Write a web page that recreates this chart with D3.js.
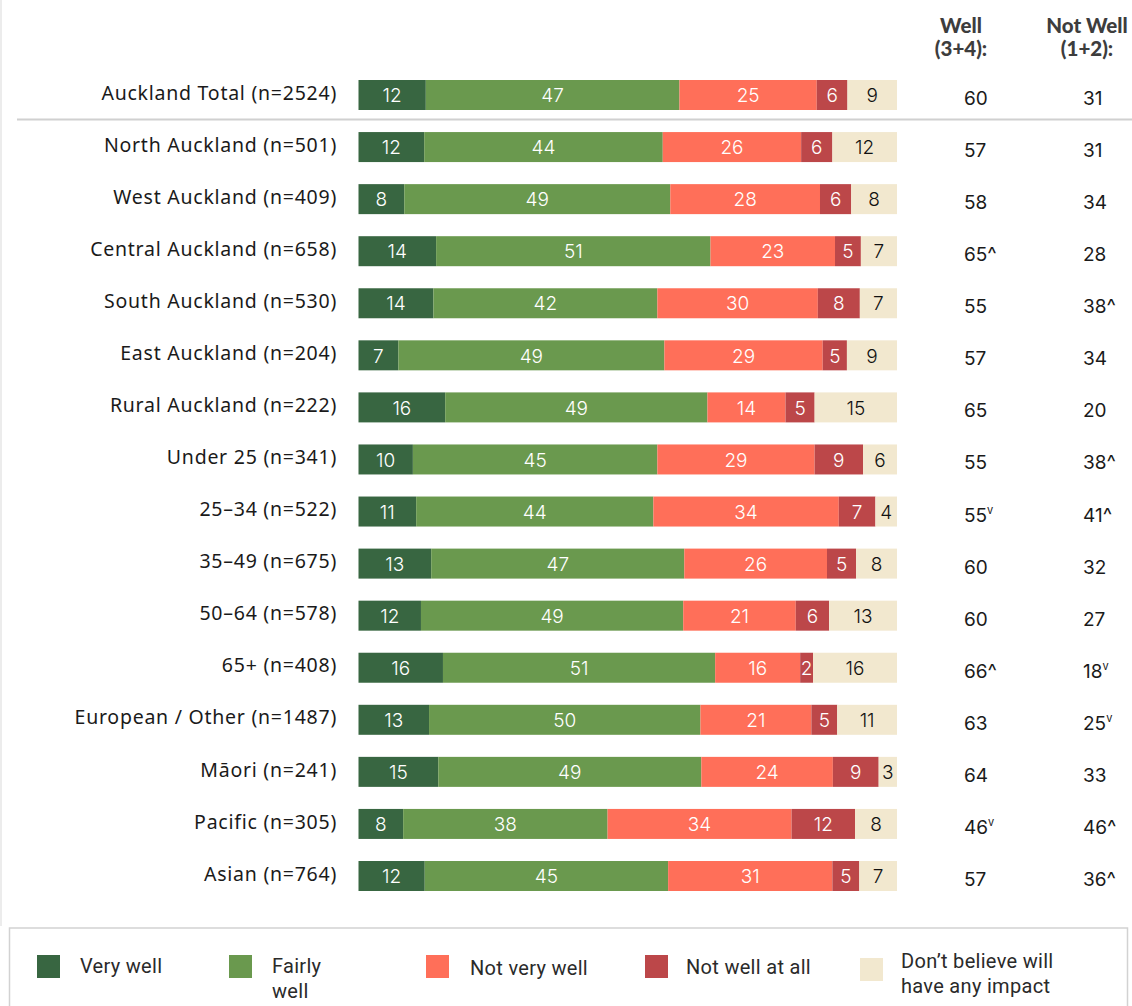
<!DOCTYPE html>
<html>
<head>
<meta charset="utf-8">
<script src="https://cdn.jsdelivr.net/npm/d3@7"></script>
<style>
  html, body { margin: 0; padding: 0; background: #fff; }
  svg { display: block; }
</style>
</head>
<body>
<svg id="chart" width="1132" height="1006"></svg>
<script>
// ---------- DATA ----------
const categories = [
  "Auckland Total (n=2524)", "North Auckland (n=501)", "West Auckland (n=409)",
  "Central Auckland (n=658)", "South Auckland (n=530)", "East Auckland (n=204)",
  "Rural Auckland (n=222)", "Under 25 (n=341)", "25–34 (n=522)", "35–49 (n=675)",
  "50–64 (n=578)", "65+ (n=408)", "European / Other (n=1487)", "Māori (n=241)",
  "Pacific (n=305)", "Asian (n=764)"
];
const seriesNames = ["Very well", "Fairly well", "Not very well", "Not well at all", "Don’t believe will have any impact"];
const seriesColors = ["#386641", "#6a994e", "#ff6f59", "#bc4749", "#f2e8cf"];

// Bar shares (%)
const veryWell     = [12.5, 12.2, 8.5, 14.4, 13.9, 7.4, 16.1, 10.1, 10.7, 13.5, 11.6, 15.7, 13.1, 14.8, 8.3, 12.3];
const fairlyWell   = [47.1, 44.3, 49.4, 50.9, 41.6, 49.4, 48.7, 45.4, 44.0, 47.0, 48.7, 50.6, 50.4, 48.8, 38.0, 45.2];
const notVeryWell  = [25.5, 25.7, 27.8, 23.1, 29.8, 29.4, 14.5, 29.2, 34.4, 26.5, 20.9, 15.8, 20.6, 24.4, 34.2, 30.5];
const notWellAtAll = [5.7, 5.8, 5.8, 4.8, 7.8, 4.5, 5.4, 9.0, 6.8, 5.4, 6.2, 2.4, 4.8, 8.5, 11.8, 5.0];
const dontBelieve  = [9.2, 12.0, 8.5, 6.7, 6.9, 9.3, 15.3, 6.3, 4.0, 7.6, 12.6, 15.6, 11.1, 3.4, 7.8, 7.0];

// Printed (rounded) segment labels
const veryWellLbl     = [12, 12, 8, 14, 14, 7, 16, 10, 11, 13, 12, 16, 13, 15, 8, 12];
const fairlyWellLbl   = [47, 44, 49, 51, 42, 49, 49, 45, 44, 47, 49, 51, 50, 49, 38, 45];
const notVeryWellLbl  = [25, 26, 28, 23, 30, 29, 14, 29, 34, 26, 21, 16, 21, 24, 34, 31];
const notWellAtAllLbl = [6, 6, 6, 5, 8, 5, 5, 9, 7, 5, 6, 2, 5, 9, 12, 5];
const dontBelieveLbl  = [9, 12, 8, 7, 7, 9, 15, 6, 4, 8, 13, 16, 11, 3, 8, 7];

// Summary columns (marker: "^" significantly higher, "v" significantly lower)
const wellNet      = [60, 57, 58, 65, 55, 57, 65, 55, 55, 60, 60, 66, 63, 64, 46, 57];
const wellMark     = ["", "", "", "^", "", "", "", "", "v", "", "", "^", "", "", "v", ""];
const notWellNet   = [31, 31, 34, 28, 38, 34, 20, 38, 41, 32, 27, 18, 25, 33, 46, 36];
const notWellMark  = ["", "", "", "", "^", "", "", "^", "^", "", "", "v", "v", "", "^", "^"];

const headers = [["Well", "(3+4):"], ["Not Well", "(1+2):"]];

// ---------- CHART ----------
const svg = d3.select("#chart");
const labelFont = "'Noto Sans', 'Open Sans', sans-serif";
const numFont = "Inter, Roboto, sans-serif";
const legendFont = "Roboto, 'Noto Sans', sans-serif";

const shares = [veryWell, fairlyWell, notVeryWell, notWellAtAll, dontBelieve];
const labels = [veryWellLbl, fairlyWellLbl, notVeryWellLbl, notWellAtAllLbl, dontBelieveLbl];

const rows = categories.map((c, i) => {
  const vals = shares.map(s => s[i]);
  const total = d3.sum(vals);
  let cum = 0;
  const segs = vals.map((v, k) => {
    const v0 = cum / total * 100; cum += v;
    return { k, x0: v0, x1: cum / total * 100, label: labels[k][i] };
  });
  return { cat: c, i, segs };
});

const x = d3.scaleLinear().domain([0, 100]).range([358.5, 897]);
const y = d3.scalePoint().domain(categories).range([95, 876]);
const barH = 30;

// faint left frame
svg.append("line").attr("x1", 1).attr("x2", 1).attr("y1", 0).attr("y2", 926)
  .attr("stroke", "#e6e6e6").attr("stroke-width", 1.5);

// separator under total
const sepY = (y(categories[0]) + y(categories[1])) / 2 - 1.5;
svg.append("line").attr("x1", 17).attr("x2", 1132).attr("y1", sepY).attr("y2", sepY)
  .attr("stroke", "#d0d0d0").attr("stroke-width", 2);

// headers
const headX = [961, 1087];
headers.forEach((h, j) => {
  const t = svg.append("text").attr("text-anchor", "middle")
    .attr("font-family", "Lato, 'Noto Sans', sans-serif").attr("font-weight", 900)
    .attr("font-size", 20.5).attr("fill", "#3d3d3d");
  t.append("tspan").attr("x", headX[j]).attr("y", 33).text(h[0]);
  t.append("tspan").attr("x", headX[j]).attr("y", 56).text(h[1]);
});

// row labels
svg.append("g").selectAll("text").data(rows).join("text")
  .attr("x", 337).attr("y", d => y(d.cat)).attr("dy", "0.24em")
  .attr("text-anchor", "end").attr("font-family", labelFont).attr("font-size", 19.5)
  .attr("letter-spacing", 0.75)
  .attr("fill", "#1a1a1a").text(d => d.cat);

// bars
const rowG = svg.append("g").selectAll("g").data(rows).join("g");
rowG.selectAll("rect").data(d => d.segs.map(s => ({ ...s, cat: d.cat }))).join("rect")
  .attr("x", d => x(d.x0)).attr("width", d => x(d.x1) - x(d.x0))
  .attr("y", d => y(d.cat) - barH / 2).attr("height", barH)
  .attr("fill", d => seriesColors[d.k]);
rowG.selectAll("text").data(d => d.segs.map(s => ({ ...s, cat: d.cat }))).join("text")
  .attr("x", d => (x(d.x0) + x(d.x1)) / 2).attr("y", d => y(d.cat)).attr("dy", "0.38em")
  .attr("text-anchor", "middle").attr("font-family", numFont).attr("font-size", 19)
  .attr("font-weight", 300)
  .attr("fill", d => d.k === 4 ? "#111" : "#fff").text(d => d.label);

// summary columns
function addCol(vals, marks, xPos) {
  const t = svg.append("g").selectAll("text").data(categories).join("text")
    .attr("x", xPos).attr("y", (d, i) => y(d) + 10)
    .attr("text-anchor", "start").attr("font-family", numFont).attr("font-size", 19)
    .attr("font-weight", 400).attr("fill", "#1a1a1a");
  t.append("tspan").text((d, i) => vals[i]);
  t.append("tspan")
    .attr("font-size", (d, i) => marks[i] === "v" ? 11 : 20)
    .attr("dy", (d, i) => marks[i] === "v" ? -8 : 0)
    .text((d, i) => marks[i]);
}
addCol(wellNet, wellMark, 964);
addCol(notWellNet, notWellMark, 1083);

// legend
svg.append("rect").attr("x", 9.5).attr("y", 928).attr("width", 1118).attr("height", 100)
  .attr("fill", "none").attr("stroke", "#d2d2d2").attr("stroke-width", 1.5);
const legendItems = [
  { x: 37, y: 955, tx: 80, lines: ["Very well"], ty: 973 },
  { x: 229, y: 955, tx: 272, lines: ["Fairly", "well"], ty: 973 },
  { x: 426, y: 955, tx: 470, lines: ["Not very well"], ty: 975 },
  { x: 645, y: 955, tx: 686, lines: ["Not well at all"], ty: 974 },
  { x: 860, y: 958, tx: 901, lines: ["Don’t believe will", "have any impact"], ty: 968 }
];
const lg = svg.append("g").selectAll("g").data(legendItems).join("g");
lg.append("rect").attr("x", d => d.x).attr("y", d => d.y).attr("width", 23).attr("height", 23)
  .attr("fill", (d, i) => seriesColors[i]);
lg.append("text").attr("font-family", legendFont)
  .attr("font-size", 20).attr("letter-spacing", 0.3).attr("fill", "#2a2a2a")
  .each(function(d) {
    const t = d3.select(this);
    d.lines.forEach((l, j) => t.append("tspan").attr("x", d.tx).attr("y", d.ty + j * 25).text(l));
  });
</script>
</body>
</html>
